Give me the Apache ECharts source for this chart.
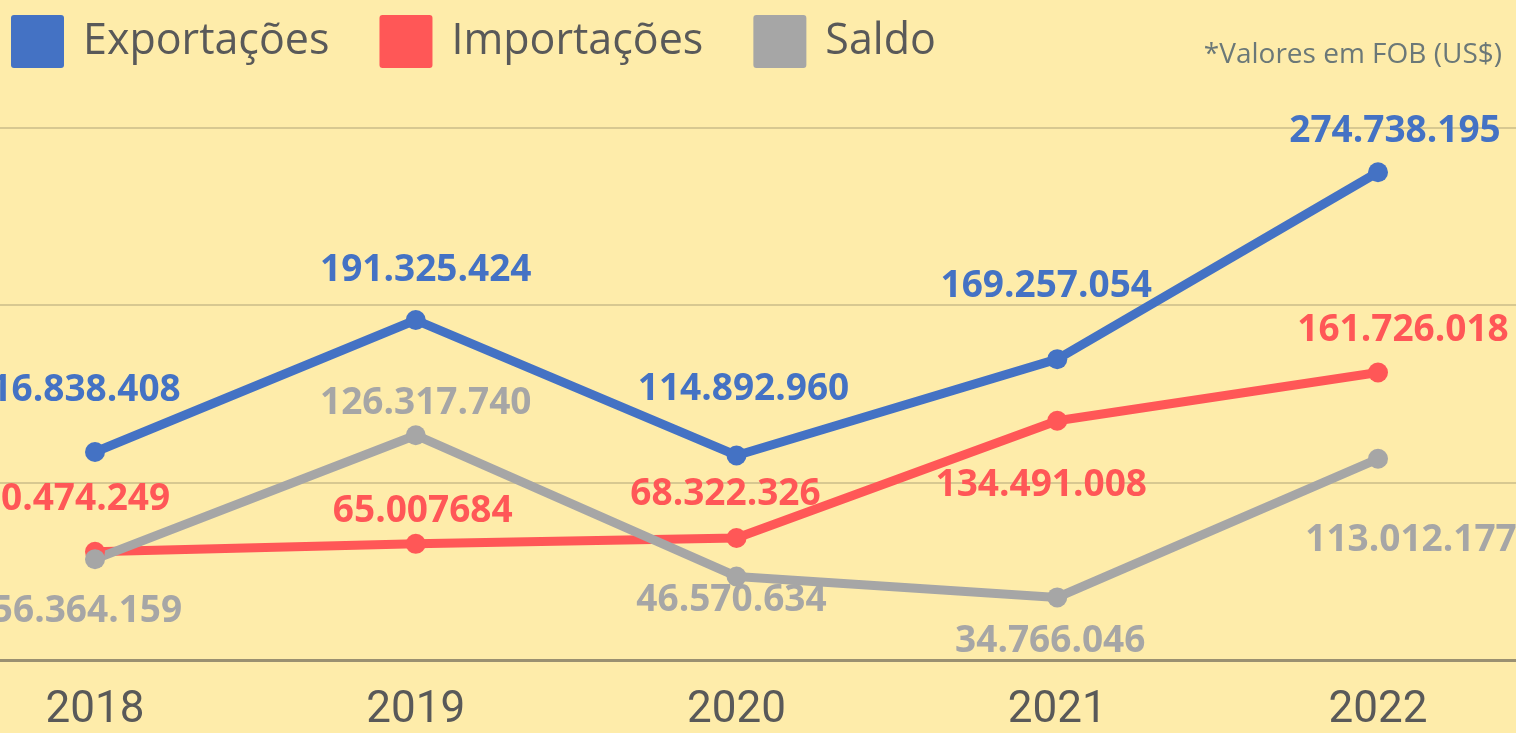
<!DOCTYPE html>
<html>
<head>
<meta charset="utf-8">
<script src="https://cdn.jsdelivr.net/npm/echarts@6/dist/echarts.min.js"></script>
<style>
  html, body { margin: 0; padding: 0; background: #feecaa; }
  #chart { width: 1516px; height: 733px; }
</style>
</head>
<body>
<div id="chart"></div>
<script>
// valores em FOB (US$)
const years = ['2018', '2019', '2020', '2021', '2022'];
const exportacoes = [116838408, 191325424, 114892960, 169257054, 274738195];
const importacoes = [60474249, 65007684, 68322326, 134491008, 161726018];
const saldo = [56364159, 126317740, 46570634, 34766046, 113012177];

const exportLabels = ['116.838.408', '191.325.424', '114.892.960', '169.257.054', '274.738.195'];
const importLabels = ['60.474.249', '65.007684', '68.322.326', '134.491.008', '161.726.018'];
const saldoLabels = ['56.364.159', '126.317.740', '46.570.634', '34.766.046', '113.012.177'];

const yTicks = [0, 100000000, 200000000, 300000000];

// label placement relative to each point (hand placed in the original)
const exportOffsets = [[-20, -62], [10, -50], [7, -66], [-11, -73], [17, -41]];
const importOffsets = [[-20, -52], [7, -32], [-11, -44], [-16, 65], [25, -42]];
const saldoOffsets = [[-8, 52], [10, -32], [-5, 24], [-7, 44], [33, 82]];

const blue = '#4472c4', red = '#ff5757', gray = '#a6a6a6';
const squareIcon = 'path://M3,0 H50 Q53,0 53,3 V50 Q53,53 50,53 H3 Q0,53 0,50 V3 Q0,0 3,0 Z';

function makeSeries(name, values, labels, offsets, color) {
  return {
    name: name,
    type: 'line',
    data: values.map((v, i) => ({
      value: v,
      label: { offset: offsets[i], formatter: labels[i] }
    })),
    symbol: 'circle',
    symbolSize: 20,
    showAllSymbol: true,
    lineStyle: { color: color, width: 9 },
    itemStyle: { color: color },
    label: {
      show: true,
      position: 'inside',
      color: color,
      fontFamily: 'Open Sans',
      fontWeight: 'bold',
      fontSize: 37
    },
    emphasis: { disabled: true },
    animation: false
  };
}

const yRange = {
  min: yTicks[0],
  max: yTicks[yTicks.length - 1],
  interval: yTicks[1] - yTicks[0]
};

const chart = echarts.init(document.getElementById('chart'));
chart.setOption({
  backgroundColor: '#feecaa',
  legend: {
    left: 11,
    top: 15,
    padding: 0,
    icon: squareIcon,
    itemWidth: 53,
    itemHeight: 53,
    itemGap: 50,
    textStyle: {
      fontFamily: 'Open Sans',
      fontSize: 43,
      color: '#595959',
      padding: [0, 0, 0, 14]
    },
    data: ['Exportações', 'Importações', 'Saldo']
  },
  graphic: [{
    type: 'text',
    right: 14,
    top: 41,
    style: {
      text: '*Valores em FOB (US$)',
      fontFamily: 'Open Sans',
      fontSize: 28,
      fill: '#6b7878'
    }
  }],
  grid: [
    { left: 95, width: 1283, top: 127.5, bottom: 73 },
    { left: 0, right: 0, top: 127.5, bottom: 73 }
  ],
  xAxis: [{
    type: 'category',
    gridIndex: 0,
    data: years,
    boundaryGap: false,
    axisTick: { show: false },
    axisLine: { show: false },
    axisLabel: {
      fontFamily: 'Roboto',
      fontSize: 44,
      color: '#595959',
      margin: 30
    }
  }, {
    type: 'value',
    gridIndex: 1,
    min: 0,
    max: 1,
    axisLabel: { show: false },
    axisTick: { show: false },
    splitLine: { show: false },
    axisLine: { lineStyle: { color: '#9a9071', width: 3 } }
  }],
  yAxis: [{
    type: 'value',
    gridIndex: 0,
    ...yRange,
    axisLabel: { show: false },
    axisLine: { show: false },
    axisTick: { show: false },
    splitLine: { show: false }
  }, {
    type: 'value',
    gridIndex: 1,
    ...yRange,
    axisLabel: { show: false },
    axisLine: { show: false },
    axisTick: { show: false },
    splitLine: { lineStyle: { color: '#d7c891', width: 2 } }
  }],
  series: [
    makeSeries('Exportações', exportacoes, exportLabels, exportOffsets, blue),
    makeSeries('Importações', importacoes, importLabels, importOffsets, red),
    makeSeries('Saldo', saldo, saldoLabels, saldoOffsets, gray)
  ]
});
</script>
</body>
</html>
